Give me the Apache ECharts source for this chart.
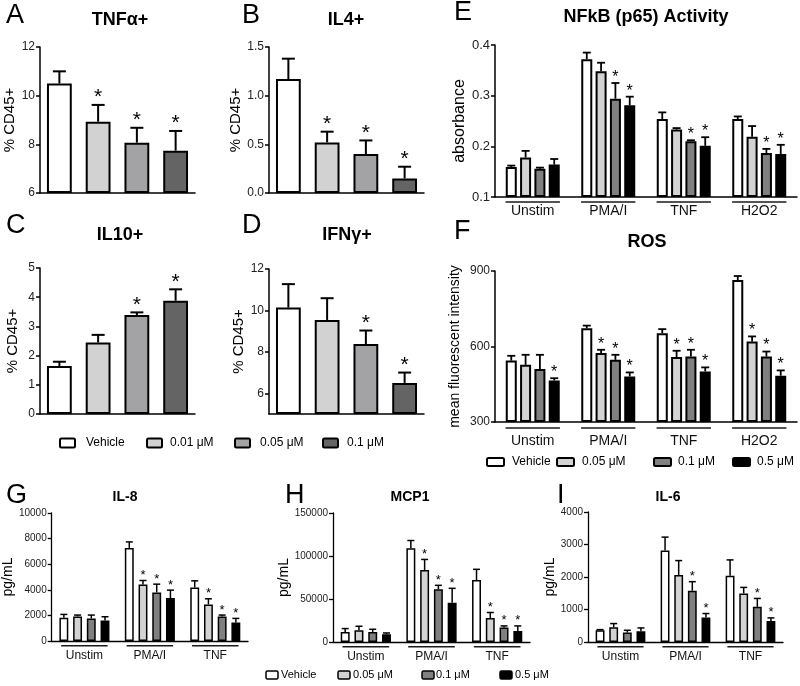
<!DOCTYPE html>
<html><head><meta charset="utf-8">
<script src="https://cdn.jsdelivr.net/npm/echarts@6/dist/echarts.min.js"></script>
<style>html,body{margin:0;padding:0;background:#fff}#c{width:800px;height:686px}</style>
</head><body><div id="c"></div>
<script>
// ---------------- data ----------------
const dosesAD = ['Vehicle', '0.01 μM', '0.05 μM', '0.1 μM'];
const dosesEI = ['Vehicle', '0.05 μM', '0.1 μM', '0.5 μM'];
const stimEF = ['Unstim', 'PMA/I', 'TNF', 'H2O2'];
const stimGI = ['Unstim', 'PMA/I', 'TNF'];

// A  TNFα+
const tnfMean = [10.5, 8.93, 8.07, 7.74];
const tnfErr = [11.0, 9.62, 8.68, 8.55];
const tnfStar = [0, 1, 1, 1];
// B  IL4+
const il4Mean = [1.17, 0.52, 0.40, 0.15];
const il4Err = [1.38, 0.63, 0.54, 0.27];
const il4Star = [0, 1, 1, 1];
// C  IL10+
const il10Mean = [1.64, 2.45, 3.39, 3.88];
const il10Err = [1.79, 2.71, 3.48, 4.27];
const il10Star = [0, 0, 1, 1];
// D  IFNγ+
const ifnMean = [10.14, 9.54, 8.38, 6.5];
const ifnErr = [11.27, 10.59, 9.03, 7.0];
const ifnStar = [0, 0, 1, 1];

// E  NFkB (p65) activity, per dose across stimEF
const nfkbVeh = [0.159, 0.372, 0.254, 0.254];
const nfkbVehErr = [0.162, 0.385, 0.267, 0.259];
const nfkbVehStar = [0, 0, 0, 0];
const nfkbD1 = [0.178, 0.348, 0.233, 0.219];
const nfkbD1Err = [0.191, 0.365, 0.236, 0.240];
const nfkbD1Star = [0, 0, 0, 0];
const nfkbD2 = [0.156, 0.294, 0.210, 0.187];
const nfkbD2Err = [0.158, 0.325, 0.212, 0.195];
const nfkbD2Star = [0, 1, 1, 1];
const nfkbD3 = [0.164, 0.281, 0.201, 0.185];
const nfkbD3Err = [0.175, 0.298, 0.218, 0.203];
const nfkbD3Star = [0, 1, 1, 1];

// F  ROS
const rosVeh = [544, 673, 653, 864];
const rosVehErr = [563, 683, 669, 880];
const rosVehStar = [0, 0, 0, 0];
const rosD1 = [527, 574, 558, 620];
const rosD1Err = [567, 587, 583, 640];
const rosD1Star = [0, 1, 1, 1];
const rosD2 = [511, 547, 560, 560];
const rosD2Err = [567, 567, 587, 580];
const rosD2Star = [0, 1, 1, 1];
const rosD3 = [465, 481, 501, 484];
const rosD3Err = [474, 497, 517, 505];
const rosD3Star = [1, 1, 1, 1];

// G  IL-8
const il8Veh = [1818, 7272, 4181];
const il8VehErr = [2078, 7740, 4700];
const il8VehStar = [0, 0, 0];
const il8D1 = [1922, 4415, 2857];
const il8D1Err = [2026, 4727, 3298];
const il8D1Star = [0, 1, 1];
const il8D2 = [1766, 3792, 1922];
const il8D2Err = [2026, 4441, 2026];
const il8D2Star = [0, 1, 1];
const il8D3 = [1610, 3350, 1454];
const il8D3Err = [1896, 3973, 1766];
const il8D3Star = [0, 1, 1];

// H  MCP1
const mcpVeh = [11700, 109000, 72000];
const mcpVehErr = [15600, 118000, 84500];
const mcpVehStar = [0, 0, 0];
const mcpD1 = [13600, 83800, 28000];
const mcpD1Err = [18300, 96000, 34300];
const mcpD1Star = [0, 1, 1];
const mcpD2 = [11700, 61200, 16800];
const mcpD2Err = [14800, 65900, 18700];
const mcpD2Star = [0, 1, 1];
const mcpD3 = [9000, 45600, 12900];
const mcpD3Err = [10500, 62400, 18700];
const mcpD3Star = [0, 1, 1];

// I  IL-6
const il6Veh = [361, 2814, 2041];
const il6VehErr = [381, 3227, 2526];
const il6VehStar = [0, 0, 0];
const il6D1 = [454, 2062, 1495];
const il6D1Err = [567, 2505, 1680];
const il6D1Star = [0, 0, 0];
const il6D2 = [289, 1577, 1082];
const il6D2Err = [361, 1856, 1340];
const il6D2Star = [0, 1, 1];
const il6D3 = [330, 753, 650];
const il6D3Err = [433, 876, 742];
const il6D3Star = [0, 1, 1];

// ---------------- rendering ----------------
const FONT = '"Liberation Sans", Arial, Helvetica, sans-serif';
const colAD = ['#ffffff', '#d2d2d2', '#a3a3a5', '#646464'];
const colEI = ['#ffffff', '#d3d3d3', '#808080', '#000000'];
const plain = function (v) { return String(v); };

const option = {animation: false, backgroundColor: '#ffffff', grid: [], xAxis: [], yAxis: [], series: [], graphic: []};

function addAxes(p) {
  const gi = option.grid.length;
  option.grid.push({left: p.left, top: p.top, width: p.width, height: p.height});
  option.xAxis.push({
    type: 'category', gridIndex: gi, data: p.cats,
    axisLine: {onZero: false, lineStyle: {color: '#000', width: p.lw}},
    axisTick: {show: false},
    axisLabel: {show: !!p.catFont, interval: 0, margin: p.catMargin || 8, fontSize: p.catFont || 12, color: '#111', fontFamily: FONT},
    splitLine: {show: false}
  });
  const y = {
    type: 'value', gridIndex: gi, min: p.min, max: p.max, interval: p.interval, startValue: p.min,
    name: p.yName, nameLocation: 'middle', nameGap: p.nameGap,
    nameTextStyle: {fontSize: p.nameFont, color: '#000', fontFamily: FONT},
    axisLine: {show: true, lineStyle: {color: '#000', width: p.lw}},
    axisTick: {show: true, length: 4, lineStyle: {color: '#000', width: p.lw}},
    axisLabel: {fontSize: p.tickFont, color: '#222', margin: 5, fontFamily: FONT, formatter: p.fmt || plain},
    splitLine: {show: false}
  };
  if (p.ticks) { y.axisTick.customValues = p.ticks; y.axisLabel.customValues = p.ticks; }
  option.yAxis.push(y);
  return gi;
}

function errSeries(gi, data, idx, n, catGap, barGap, st) {
  return {
    type: 'custom', xAxisIndex: gi, yAxisIndex: gi, z: 5, clip: false, silent: true, data: data,
    renderItem: function (params, api) {
      const cat = api.value(0), v = api.value(1), e = api.value(2), s = api.value(3);
      const band = api.size([1, 0])[0];
      const p0 = api.coord([cat, v]);
      const gw = band * (1 - catGap);
      const w = gw / (n + (n - 1) * barGap);
      const x = p0[0] - gw / 2 + w / 2 + idx * w * (1 + barGap);
      const y0 = p0[1];
      const y1 = api.coord([cat, e])[1];
      const ch = [
        {type: 'line', shape: {x1: x, y1: y0, x2: x, y2: y1}, style: {stroke: '#000', lineWidth: st.lw}},
        {type: 'line', shape: {x1: x - st.cap / 2, y1: y1, x2: x + st.cap / 2, y2: y1}, style: {stroke: '#000', lineWidth: st.lw}}
      ];
      if (s) ch.push({type: 'text', style: {text: '*', x: x, y: y1 - st.starGap + 0.22 * st.starFont,
        align: 'center', verticalAlign: 'middle', textAlign: 'center', textVerticalAlign: 'middle',
        fontSize: st.starFont, fontFamily: FONT, fill: '#000'}});
      return {type: 'group', children: ch};
    }
  };
}

function underlineSeries(gi, cats, yMin, st) {
  return {
    type: 'custom', xAxisIndex: gi, yAxisIndex: gi, clip: false, silent: true,
    data: cats.map(function (c, i) { return [i, yMin]; }),
    renderItem: function (params, api) {
      const band = api.size([1, 0])[0];
      const p = api.coord([api.value(0), api.value(1)]);
      const h = band * st.frac / 2;
      const y = p[1] + st.off;
      return {type: 'line', shape: {x1: p[0] - h + st.shift, y1: y, x2: p[0] + h + st.shift, y2: y}, style: {stroke: '#1a1a1a', lineWidth: st.ulw}};
    }
  };
}

function zipRows(mean, err, star) { return mean.map(function (v, i) { return [i, v, err[i], star[i]]; }); }

// single-series panels (A-D)
const stAD = {lw: 2, cap: 13, starFont: 21, starGap: 12, bw: 2, catGap: 0.36};
function singlePanel(p, mean, err, star) {
  const gi = addAxes(Object.assign({cats: dosesAD, lw: 1.5, tickFont: 12, nameFont: 15, yName: '% CD45+'}, p));
  option.series.push({
    type: 'bar', xAxisIndex: gi, yAxisIndex: gi, silent: true, barCategoryGap: (stAD.catGap * 100) + '%',
    data: mean.map(function (v, i) { return {value: v, itemStyle: {color: colAD[i]}}; }),
    itemStyle: {borderColor: '#000', borderWidth: stAD.bw}
  });
  option.series.push(errSeries(gi, zipRows(mean, err, star), 0, 1, stAD.catGap, 0, stAD));
}

function groupPanel(p, cats, sets, st) {
  const gi = addAxes(Object.assign({cats: cats}, p));
  sets.forEach(function (s, i) {
    option.series.push({
      type: 'bar', xAxisIndex: gi, yAxisIndex: gi, silent: true, name: dosesEI[i],
      barCategoryGap: (st.catGap * 100) + '%', barGap: (st.barGap * 100) + '%',
      data: s[0], itemStyle: {color: colEI[i], borderColor: '#000', borderWidth: st.bw}
    });
  });
  sets.forEach(function (s, i) {
    option.series.push(errSeries(gi, zipRows(s[0], s[1], s[2]), i, sets.length, st.catGap, st.barGap, st));
  });
  option.series.push(underlineSeries(gi, cats, p.min, st));
}

singlePanel({left: 40, top: 47, width: 155, height: 146, min: 6, max: 12, interval: 2, nameGap: 20}, tnfMean, tnfErr, tnfStar);
singlePanel({left: 269, top: 47, width: 155, height: 146, min: 0, max: 1.5, interval: 0.5, nameGap: 23,
  fmt: function (v) { return v.toFixed(1); }}, il4Mean, il4Err, il4Star);
singlePanel({left: 40, top: 268, width: 155, height: 146, min: 0, max: 5, interval: 1, nameGap: 20}, il10Mean, il10Err, il10Star);
singlePanel({left: 269, top: 269, width: 155, height: 145, min: 5, max: 12, interval: 1, nameGap: 21, ticks: [6, 8, 10, 12]}, ifnMean, ifnErr, ifnStar);

const stEF = {lw: 1.8, cap: 8, starFont: 16, starGap: 9, bw: 2, catGap: 0.285, barGap: 0.3, frac: 0.72, off: 5, ulw: 1.5, shift: 0};
groupPanel({left: 495, top: 45, width: 302, height: 152, min: 0.1, max: 0.4, interval: 0.1, lw: 1.5,
  tickFont: 13, nameFont: 16, yName: 'absorbance', nameGap: 25, catFont: 14, catMargin: 7,
  fmt: function (v) { return v.toFixed(1); }}, stimEF,
  [[nfkbVeh, nfkbVehErr, nfkbVehStar], [nfkbD1, nfkbD1Err, nfkbD1Star], [nfkbD2, nfkbD2Err, nfkbD2Star], [nfkbD3, nfkbD3Err, nfkbD3Star]], stEF);
const stF = Object.assign({}, stEF, {off: 6});
groupPanel({left: 495, top: 271, width: 302, height: 151, min: 300, max: 900, interval: 300, lw: 1.5,
  tickFont: 12, nameFont: 14, yName: 'mean fluorescent intensity', nameGap: 33, catFont: 14, catMargin: 12}, stimEF,
  [[rosVeh, rosVehErr, rosVehStar], [rosD1, rosD1Err, rosD1Star], [rosD2, rosD2Err, rosD2Star], [rosD3, rosD3Err, rosD3Star]], stF);

const stGI = {lw: 1.5, cap: 7, starFont: 13, starGap: 8, bw: 1.5, catGap: 0.235, barGap: 0.54, frac: 0.71, off: 4.7, ulw: 1.5, shift: 0};
groupPanel({left: 50, top: 513, width: 198, height: 128, min: 0, max: 10000, interval: 2000, lw: 1.3,
  tickFont: 10, nameFont: 14, yName: 'pg/mL', nameGap: 35, catFont: 12, catMargin: 9}, stimGI,
  [[il8Veh, il8VehErr, il8VehStar], [il8D1, il8D1Err, il8D1Star], [il8D2, il8D2Err, il8D2Star], [il8D3, il8D3Err, il8D3Star]], stGI);
groupPanel({left: 333, top: 513, width: 197, height: 129, min: 0, max: 150000, interval: 50000, lw: 1.3,
  tickFont: 10, nameFont: 14, yName: 'pg/mL', nameGap: 30, catFont: 12, catMargin: 9}, stimGI,
  [[mcpVeh, mcpVehErr, mcpVehStar], [mcpD1, mcpD1Err, mcpD1Star], [mcpD2, mcpD2Err, mcpD2Star], [mcpD3, mcpD3Err, mcpD3Star]], stGI);
groupPanel({left: 588, top: 512, width: 195, height: 130, min: 0, max: 4000, interval: 1000, lw: 1.3,
  tickFont: 10, nameFont: 14, yName: 'pg/mL', nameGap: 26, catFont: 12, catMargin: 9}, stimGI,
  [[il6Veh, il6VehErr, il6VehStar], [il6D1, il6D1Err, il6D1Star], [il6D2, il6D2Err, il6D2Star], [il6D3, il6D3Err, il6D3Star]], stGI);

// ---------------- text: panel letters, titles, legends ----------------
function txt(t, x, y, size, weight, align) {
  option.graphic.push({type: 'text', x: x, y: y, silent: true, style: {text: t, fontSize: size, fontWeight: weight || 'normal',
    fontFamily: FONT, fill: '#000', align: align || 'left', verticalAlign: 'middle', textAlign: align || 'left', textVerticalAlign: 'middle'}});
}
[['A', 6, 16], ['B', 242, 16], ['C', 6, 226], ['D', 242, 226], ['E', 454, 13], ['F', 454, 232], ['G', 6, 496], ['H', 285, 496], ['I', 557, 496]]
  .forEach(function (l) { txt(l[0], l[1], l[2], 27, 'normal'); });
[['TNFα+', 120, 20], ['IL4+', 346, 20], ['IL10+', 120, 235], ['IFNγ+', 347, 235], ['NFkB (p65) Activity', 646, 17], ['ROS', 647, 242]]
  .forEach(function (t) { txt(t[0], t[1], t[2], 18, 'bold', 'center'); });
[['IL-8', 125, 497], ['MCP1', 410, 497], ['IL-6', 668, 497]]
  .forEach(function (t) { txt(t[0], t[1], t[2], 14, 'bold', 'center'); });

function legend(names, colors, xs, txs, y, w, h, fs, lw) {
  names.forEach(function (n, i) {
    option.graphic.push({type: 'rect', silent: true, shape: {x: xs[i], y: y - h / 2, width: w, height: h, r: 1.5},
      style: {fill: colors[i], stroke: '#000', lineWidth: lw}});
    txt(n, txs[i], y, fs, 'normal');
  });
}
legend(dosesAD, colAD, [60, 147, 235, 323], [86, 170, 260, 347], 443, 15, 9, 12, 2);
legend(dosesEI, colEI, [487, 557, 654, 733], [512, 582, 678, 757], 462, 17, 8, 12, 2);
legend(dosesEI, colEI, [266, 338, 422, 500], [281, 353, 436, 515], 675, 12, 8, 11, 1.5);

echarts.init(document.getElementById('c'), null, {renderer: 'canvas'}).setOption(option);
</script>
</body></html>
